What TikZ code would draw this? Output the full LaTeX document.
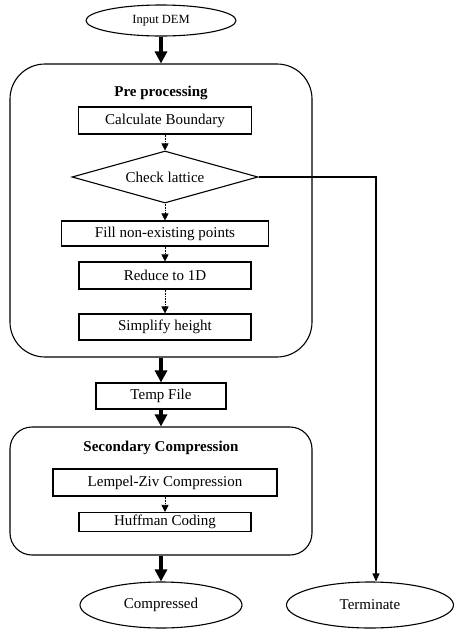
\documentclass[tikz,border=0pt]{standalone}
\usepackage{fontspec}
\setmainfont{Liberation Serif}
\usetikzlibrary{shapes.geometric,arrows.meta}
\begin{document}
\begin{tikzpicture}
[x=1pt,y=-1pt,
  boxDecorate/.style={shape=rectangle,draw,line width=1.1pt,inner sep=0pt,font=\fontsize{15}{17}\selectfont},
  groupDecorate/.style={shape=rectangle,draw,line width=1.1pt,inner sep=0pt},
  ovalDecorate/.style={shape=ellipse,draw,line width=1.1pt,inner sep=0pt,font=\fontsize{15}{17}\selectfont},
  titleDecorate/.style={font=\fontsize{15}{17}\selectfont\bfseries,inner sep=0pt},
  thickArrow/.style={line width=3.5pt,-{Triangle[length=12pt,width=12pt]}},
  thinArrow/.style={line width=0.6pt,densely dotted,-{Triangle[length=7pt,width=7pt]}},
  plainArrow/.style={line width=1.1pt,-{Triangle[length=8pt,width=7pt]}}]
\useasboundingbox (0,0) rectangle (454,630);
%% groups
\node (pre) at (161,210.5) [groupDecorate,minimum width=302pt,minimum height=293pt,rounded corners=35pt] {};
\node (sec) at (161,491) [groupDecorate,minimum width=302pt,minimum height=128pt,rounded corners=22pt] {};
\node (preTitle) at (161,93) [titleDecorate] {Pre processing};
\node (secTitle) at (161,448) [titleDecorate] {Secondary Compression};
%% boxes
\foreach \nodename/\x/\y/\w/\h/\txt in {
  calc/165/120.5/173/27/Calculate Boundary,
  fill/165/233.5/207/25/Fill non-existing points,
  reduce/165/275.5/172/27/Reduce to 1D,
  simp/165/327/172/26/Simplify height,
  temp/161/396/130/26/Temp File,
  lz/165/482.5/224/27/Lempel-Ziv Compression,
  huff/165/522/172/19/Huffman Coding}
{
  \node (\nodename) at (\x,\y) [boxDecorate,minimum width=\w pt,minimum height=\h pt] {\txt};
}
\node (lattice) at (165,177) [shape=diamond,draw,line width=1.1pt,inner sep=0pt,aspect=3.5,
  minimum width=186pt,minimum height=52pt,font=\fontsize{15}{17}\selectfont] {Check lattice};
%% ovals
\node (dem) at (161,20.5) [ovalDecorate,minimum width=150pt,minimum height=31pt,font=\fontsize{12.5}{14}\selectfont] {Input DEM};
\node (comp) at (161,605) [ovalDecorate,minimum width=162pt,minimum height=46pt] {Compressed};
\node (term) at (370,605) [ovalDecorate,minimum width=167pt,minimum height=46pt] {Terminate};
\coordinate (bend) at (376,177);
%% connectors
\foreach \startnode/\endnode in {dem/pre, pre/temp, temp/sec, sec/comp}
{
  \draw[thickArrow] (\startnode.south) -- (\endnode.north);
}
\foreach \startnode/\endnode in {calc/lattice, lattice/fill, fill/reduce, reduce/simp, lz/huff}
{
  \draw[thinArrow] (\startnode.south) -- (\endnode.north);
}
\draw[plainArrow] (lattice.east) -- (bend) -- (bend |- term.north);
\end{tikzpicture}
\end{document}
